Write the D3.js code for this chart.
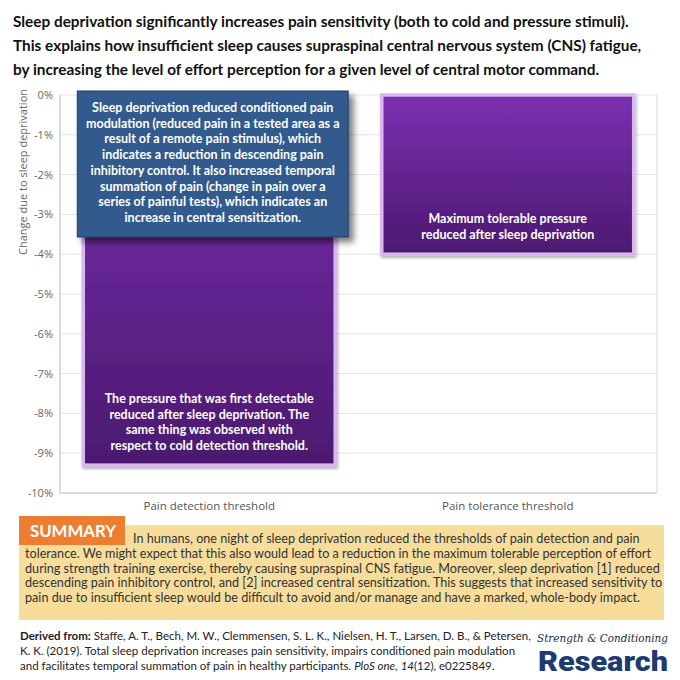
<!DOCTYPE html>
<html>
<head>
<meta charset="utf-8">
<script src="https://cdn.jsdelivr.net/npm/d3@7"></script>
<style>
  body { margin: 0; background: #fff; }
</style>
</head>
<body>
<div id="vis"></div>
<script>
// chart values
const categories = ["Pain detection threshold", "Pain tolerance threshold"];
const changes = [-0.093, -0.040];
const yTicks = [0, -0.01, -0.02, -0.03, -0.04, -0.05, -0.06, -0.07, -0.08, -0.09, -0.10];
const yTitle = "Change due to sleep deprivation";

const titleLines = [
  "Sleep deprivation significantly increases pain sensitivity (both to cold and pressure stimuli).",
  "This explains how insufficient sleep causes supraspinal central nervous system (CNS) fatigue,",
  "by increasing the level of effort perception for a given level of central motor command."
];

const barNotes = [
  ["The pressure that was first detectable",
   "reduced after sleep deprivation. The",
   "same thing was observed with",
   "respect to cold detection threshold."],
  ["Maximum tolerable pressure",
   "reduced after sleep deprivation"]
];

const boxNote = [
  "Sleep deprivation reduced conditioned pain",
  "modulation (reduced pain in a tested area as a",
  "result of a remote pain stimulus), which",
  "indicates a reduction in descending pain",
  "inhibitory control. It also increased temporal",
  "summation of pain (change in pain over a",
  "series of painful tests), which indicates an",
  "increase in central sensitization."
];

const summaryLines = [
  "In humans, one night of sleep deprivation reduced the thresholds of pain detection and pain",
  "tolerance. We might expect that this also would lead to a reduction in the maximum tolerable perception of effort",
  "during strength training exercise, thereby causing supraspinal CNS fatigue. Moreover, sleep deprivation [1] reduced",
  "descending pain inhibitory control, and [2] increased central sensitization. This suggests that increased sensitivity to",
  "pain due to insufficient sleep would be difficult to avoid and/or manage and have a marked, whole-body impact."
];

const sourceLines = [
  [{t: "Derived from:", b: true}, {t: " Staffe, A. T., Bech, M. W., Clemmensen, S. L. K., Nielsen, H. T., Larsen, D. B., & Petersen,"}],
  [{t: "K. K. (2019). Total sleep deprivation increases pain sensitivity, impairs conditioned pain modulation"}],
  [{t: "and facilitates temporal summation of pain in healthy participants. "}, {t: "PloS one", i: true}, {t: ", "}, {t: "14", i: true}, {t: "(12), e0225849."}]
];

const W = 680, H = 680;
const font = "Lato, 'Open Sans', sans-serif";
const axisFont = "'Open Sans', 'DejaVu Sans', sans-serif";

const svg = d3.select("#vis").append("svg")
    .attr("width", W)
    .attr("height", H)
    .style("font-family", font);

const defs = svg.append("defs");

const grad = defs.append("linearGradient")
    .attr("id", "barGrad")
    .attr("x1", 0).attr("y1", 0).attr("x2", 0).attr("y2", 1);
grad.append("stop").attr("offset", "0%").attr("stop-color", "#7b30b1");
grad.append("stop").attr("offset", "100%").attr("stop-color", "#4b196f");

defs.append("filter").attr("id", "barShadow")
    .attr("x", "-10%").attr("y", "-10%").attr("width", "130%").attr("height", "130%")
  .append("feDropShadow")
    .attr("dx", 1).attr("dy", 2).attr("stdDeviation", 1.5)
    .attr("flood-color", "#000").attr("flood-opacity", 0.3);

defs.append("filter").attr("id", "boxShadow")
    .attr("x", "-10%").attr("y", "-10%").attr("width", "130%").attr("height", "130%")
  .append("feDropShadow")
    .attr("dx", 5).attr("dy", 5).attr("stdDeviation", 3)
    .attr("flood-color", "#000").attr("flood-opacity", 0.5);

// title
svg.append("g").selectAll("text")
  .data(titleLines)
  .join("text")
    .attr("x", 13)
    .attr("y", (d, i) => 27 + i * 24)
    .attr("font-size", 15.35)
    .attr("font-weight", 700)
    .attr("fill", "#111")
    .text(d => d);

// plot
const plot = {left: 60, right: 657, top: 95, bottom: 493};

const x = d3.scaleBand()
    .domain(categories)
    .range([plot.left, plot.right])
    .paddingInner(0.156)
    .paddingOuter(0.078);

const y = d3.scaleLinear()
    .domain([-0.10, 0])
    .range([plot.bottom, plot.top]);

const fmt = d => Math.round(d * 100) + "%";

// gridlines
svg.append("g")
  .selectAll("line")
  .data(yTicks)
  .join("line")
    .attr("x1", plot.left).attr("x2", plot.right)
    .attr("y1", d => y(d)).attr("y2", d => y(d))
    .attr("stroke", d => d === -0.10 ? "#cfcfcf" : "#e3e3e3")
    .attr("stroke-width", d => d === -0.10 ? 1.5 : 1);

// frame sides
svg.append("line")
    .attr("x1", plot.left).attr("x2", plot.left)
    .attr("y1", plot.top).attr("y2", plot.bottom)
    .attr("stroke", "#cfcfcf").attr("stroke-width", 1.5);
svg.append("line")
    .attr("x1", plot.right).attr("x2", plot.right)
    .attr("y1", plot.top).attr("y2", plot.bottom)
    .attr("stroke", "#dcdcdc");

// y axis labels
const yAxis = svg.append("g")
    .attr("transform", `translate(${plot.left},0)`)
    .call(d3.axisLeft(y).tickValues(yTicks).tickFormat(fmt).tickSize(0).tickPadding(7));
yAxis.select(".domain").remove();
yAxis.selectAll("text")
    .attr("font-family", axisFont)
    .attr("font-size", 11)
    .attr("fill", "#666");

svg.append("text")
    .attr("transform", `translate(27,172) rotate(-90)`)
    .attr("text-anchor", "middle")
    .attr("font-family", axisFont)
    .attr("font-size", 11)
    .attr("fill", "#666")
    .text(yTitle);

// x axis labels
const xAxis = svg.append("g")
    .attr("transform", `translate(0,${plot.bottom})`)
    .call(d3.axisBottom(x).tickSize(0).tickPadding(9));
xAxis.select(".domain").remove();
xAxis.selectAll("text")
    .attr("font-family", axisFont)
    .attr("font-size", 11.5)
    .attr("fill", "#555");

// bars
const bars = svg.append("g")
  .selectAll("g")
  .data(categories.map((c, i) => ({c, v: changes[i], note: barNotes[i]})))
  .join("g");

bars.append("rect")
    .attr("x", d => x(d.c))
    .attr("y", y(0))
    .attr("width", x.bandwidth())
    .attr("height", d => y(d.v) - y(0))
    .attr("fill", "url(#barGrad)")
    .attr("stroke", "#d8b8f0")
    .attr("stroke-width", 3.5)
    .attr("filter", "url(#barShadow)");

bars.each(function (d) {
  const n = d.note.length;
  d3.select(this).append("text")
      .attr("text-anchor", "middle")
      .attr("font-size", 12.5)
      .attr("font-weight", 700)
      .attr("fill", "#fff")
    .selectAll("tspan")
    .data(d.note)
    .join("tspan")
      .attr("x", x(d.c) + x.bandwidth() / 2)
      .attr("y", (t, i) => y(d.v) - 15 - (n - 1 - i) * 15.8)
      .text(t => t);
});

// blue callout box
const bx = x(categories[0]) - 6, bw = x.bandwidth() + 19;
const by = y(0) - 4, bh = 146;
const box = svg.append("g");
box.append("rect")
    .attr("x", bx).attr("y", by)
    .attr("width", bw).attr("height", bh)
    .attr("fill", "#305a8d")
    .attr("stroke", "#1f3e66")
    .attr("stroke-width", 1)
    .attr("filter", "url(#boxShadow)");
box.append("text")
    .attr("text-anchor", "middle")
    .attr("font-size", 12.5)
    .attr("font-weight", 700)
    .attr("fill", "#fff")
  .selectAll("tspan")
  .data(boxNote)
  .join("tspan")
    .attr("x", bx + bw / 2)
    .attr("y", (d, i) => by + 21 + i * 15.7)
    .text(d => d);

// summary panel
const sum = svg.append("g");
sum.append("rect")
    .attr("x", 19).attr("y", 525)
    .attr("width", 645).attr("height", 95)
    .attr("fill", "#f6dd9c");
sum.append("rect")
    .attr("x", 19).attr("y", 516)
    .attr("width", 106).attr("height", 29)
    .attr("fill", "#ed7d31");
sum.append("text")
    .attr("x", 73).attr("y", 537)
    .attr("text-anchor", "middle")
    .attr("font-size", 16.8)
    .attr("font-weight", 700)
    .attr("fill", "#fff")
    .text("SUMMARY");
sum.append("g").selectAll("text")
  .data(summaryLines)
  .join("text")
    .attr("x", (d, i) => i === 0 ? 133 : 25)
    .attr("y", (d, i) => 543 + i * 14.8)
    .attr("font-size", 12.65)
    .attr("fill", "#333")
    .text(d => d);

// source
const src = svg.append("g").selectAll("text")
  .data(sourceLines)
  .join("text")
    .attr("x", 20)
    .attr("y", (d, i) => 640 + i * 14.8)
    .attr("font-size", 11.5)
    .attr("fill", "#222");
src.selectAll("tspan")
  .data(d => d)
  .join("tspan")
    .attr("font-weight", d => d.b ? 700 : null)
    .attr("font-style", d => d.i ? "italic" : null)
    .text(d => d.t);

// logo
svg.append("text")
    .attr("x", 537).attr("y", 642)
    .attr("font-family", "'DejaVu Serif', serif")
    .attr("font-style", "italic")
    .attr("font-size", 11)
    .attr("textLength", 131)
    .attr("lengthAdjust", "spacingAndGlyphs")
    .attr("fill", "#1b2a48")
    .text("Strength & Conditioning");
svg.append("text")
    .attr("x", 603).attr("y", 671)
    .attr("text-anchor", "middle")
    .attr("font-family", "Roboto, 'Open Sans', sans-serif")
    .attr("font-weight", 900)
    .attr("font-size", 28.5)
    .attr("textLength", 130)
    .attr("lengthAdjust", "spacingAndGlyphs")
    .attr("fill", "#1c3b6e")
    .text("Research");
</script>
</body>
</html>
